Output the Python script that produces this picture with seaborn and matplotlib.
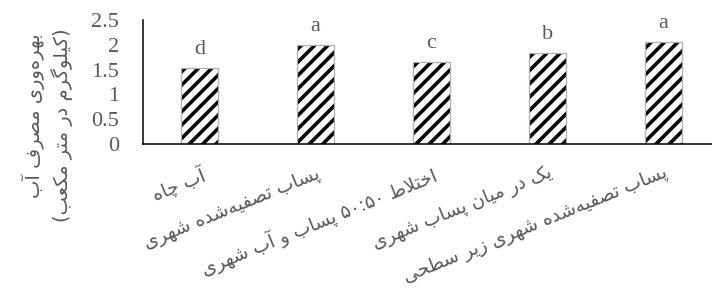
import re
import numpy as np
import pandas as pd
import matplotlib
matplotlib.use("Agg")
import matplotlib.pyplot as plt
from matplotlib.transforms import ScaledTranslation
import seaborn as sns

# ----------------------------
# data

treatments = ['آب چاه',
              'پساب تصفیه‌شده شهری',
              'اختلاط ۵۰:۵۰ پساب و آب شهری',
              'یک در میان پساب شهری',
              'پساب تصفیه‌شده شهری زیر سطحی']
wue = [1.53, 2.0, 1.65, 1.83, 2.06]
groups = ['d', 'a', 'c', 'b', 'a']
y_ticks = [0, 0.5, 1, 1.5, 2, 2.5]
y_tick_labels = ['0', '0.5', '1', '1.5', '2', '2.5']
y_title = ['بهره‌وری مصرف آب', '(کیلوگرم در متر مکعب)']

# ----------------------------
# arabic shaping (matplotlib has no bidi / joining)

DUAL = {'ب': 0xFE8F, 'پ': 0xFB56, 'ت': 0xFE95, 'ث': 0xFE99, 'ج': 0xFE9D,
        'چ': 0xFB7A, 'ح': 0xFEA1, 'خ': 0xFEA5, 'س': 0xFEB1, 'ش': 0xFEB5,
        'ص': 0xFEB9, 'ض': 0xFEBD, 'ط': 0xFEC1, 'ظ': 0xFEC5, 'ع': 0xFEC9,
        'غ': 0xFECD, 'ف': 0xFED1, 'ق': 0xFED5, 'ک': 0xFB8E, 'گ': 0xFB92,
        'ل': 0xFEDD, 'م': 0xFEE1, 'ن': 0xFEE5, 'ه': 0xFEE9, 'ی': 0xFBFC}
RIGHT = {'ا': 0xFE8D, 'آ': 0xFE81, 'د': 0xFEA9, 'ذ': 0xFEAB, 'ر': 0xFEAD,
         'ز': 0xFEAF, 'ژ': 0xFB8A, 'و': 0xFEED}
LAM_ALEF = {'ا': 0xFEFB, 'آ': 0xFEF5}


def shape(text):
    out = []
    i = 0
    while i < len(text):
        c = text[i]
        prev = text[i - 1] if i > 0 else ''
        nxt = text[i + 1] if i + 1 < len(text) else ''
        to_prev = prev in DUAL
        if c == 'ل' and nxt in LAM_ALEF:
            out.append(chr(LAM_ALEF[nxt] + (1 if to_prev else 0)))
            i += 2
            continue
        if c in DUAL:
            to_next = nxt in DUAL or nxt in RIGHT
            k = {(False, False): 0, (True, False): 1,
                 (False, True): 2, (True, True): 3}[(to_prev, to_next)]
            out.append(chr(DUAL[c] + k))
        elif c in RIGHT:
            out.append(chr(RIGHT[c] + (1 if to_prev else 0)))
        elif c != '\u200c':
            out.append(c)
        i += 1
    return ''.join(out)


def visual(text):
    s = shape(text)[::-1]
    s = re.sub(r'[0-9۰-۹:]+', lambda m: m.group(0)[::-1], s)
    return s.translate(str.maketrans('()', ')('))


# ----------------------------
# plot

sns.set_theme(style='white')
plt.rcParams['font.family'] = ['Liberation Serif', 'DejaVu Sans']
plt.rcParams['hatch.linewidth'] = 1.3

grey = '#595959'
df = pd.DataFrame({'treat': treatments, 'wue': wue})

fig = plt.figure(figsize=(3.56, 1.445), dpi=200)
ax = fig.add_axes([143 / 712, 1 - 144 / 289, 569 / 712, 124 / 289])

sns.barplot(data=df, x='treat', y='wue', color='white', edgecolor='black',
            linewidth=0, width=0.32, hatch='/////', ax=ax)
sns.barplot(data=df, x='treat', y='wue', color='#AFAFAF', fill=False,
            linewidth=0.45, width=0.32, ax=ax)

for i, (v, g) in enumerate(zip(wue, groups)):
    ax.annotate(g, (i, v), xytext=(0, 5.0), textcoords='offset points',
                ha='center', va='baseline', fontsize=8, color=grey)

ax.set_xlim(-0.49, 4.42)
ax.set_ylim(0, 2.5)
ax.set_yticks(y_ticks)
ax.set_yticklabels(y_tick_labels, fontsize=8, color=grey)
ax.set_xticks(range(len(treatments)))
ax.set_xticklabels([visual(t) for t in treatments], rotation=22, ha='right',
                   rotation_mode='anchor', fontsize=6.7, color=grey,
                   family='DejaVu Sans')
shift = ScaledTranslation(3 / 200, 0, fig.dpi_scale_trans)
for lab in ax.get_xticklabels():
    lab.set_transform(lab.get_transform() + shift)
ax.tick_params(axis='y', length=0, pad=8.7)
ax.tick_params(axis='x', length=0, pad=7.0)
ax.set_xlabel('')
ax.set_ylabel('')

sns.despine(ax=ax)
for side in ['left', 'bottom']:
    ax.spines[side].set_color('black')
    ax.spines[side].set_linewidth(0.55)

# y title: two rotated lines, right aligned (top after rotation)
for (x_px, top_px), line in zip([(33, 33), (62, 28)], y_title):
    fig.text(x_px / 712, 1 - top_px / 289, visual(line), rotation=90,
             ha='center', va='top', fontsize=7.0, color=grey,
             family='DejaVu Sans')

fig.savefig('out.png', dpi=200)
